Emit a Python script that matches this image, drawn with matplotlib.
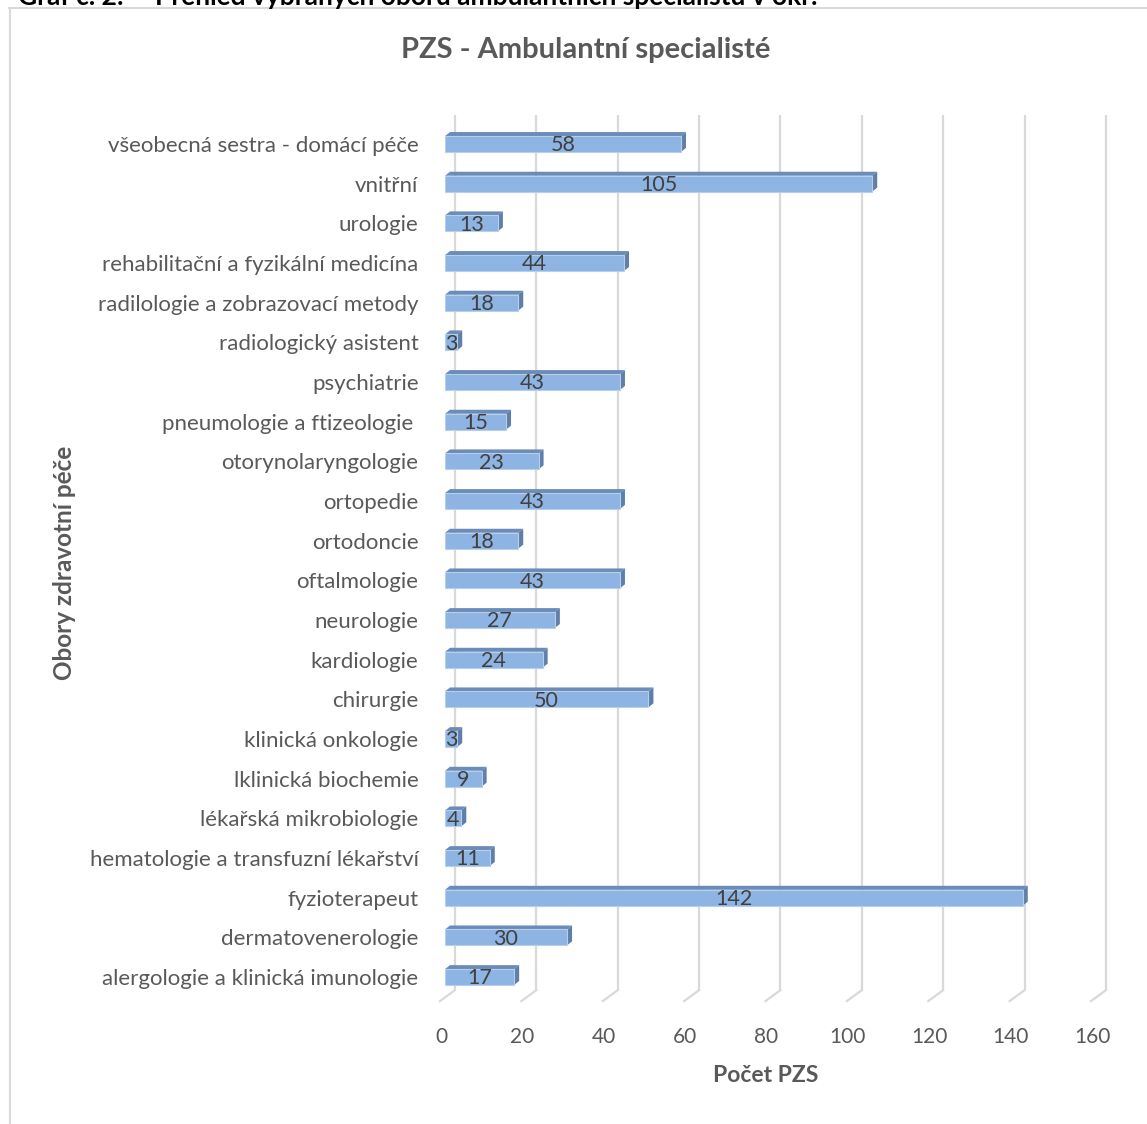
import matplotlib
matplotlib.use("Agg")
import matplotlib.pyplot as plt
from matplotlib.patches import Rectangle, Polygon
from matplotlib.lines import Line2D
import matplotlib.transforms as mtransforms

plt.rcParams['font.family'] = ['Lato', 'DejaVu Sans']

# data (bottom -> top)
obory = [
    "alergologie a klinická imunologie",
    "dermatovenerologie",
    "fyzioterapeut",
    "hematologie a transfuzní lékařství",
    "lékařská mikrobiologie",
    "lklinická biochemie",
    "klinická onkologie",
    "chirurgie",
    "kardiologie",
    "neurologie",
    "oftalmologie",
    "ortodoncie",
    "ortopedie",
    "otorynolaryngologie",
    "pneumologie a ftizeologie ",
    "psychiatrie",
    "radiologický asistent",
    "radilologie a zobrazovací metody",
    "rehabilitační a fyzikální medicína",
    "urologie",
    "vnitřní",
    "všeobecná sestra - domácí péče",
]
pocty = [17, 30, 142, 11, 4, 9, 3, 50, 24, 27, 43, 18, 43, 23, 15, 43, 3, 18, 44, 13, 105, 58]
x_ticks = [0, 20, 40, 60, 80, 100, 120, 140, 160]

nadpis = "PZS - Ambulantní specialisté"
osa_x = "Počet PZS"
osa_y = "Obory zdravotní péče"
popis_1 = "Graf č. 2:"
popis_2 = "Přehled vybraných oborů ambulantních specialistů v okr."

W, H = 1147, 1124
fig = plt.figure(figsize=(W / 100, H / 100), dpi=100)

# axes placed in pixels: x=0 at 445px, 160 at 1096px; rows 39.67px apart
left_px, width_px = 445, 651
row_px = 39.67
top_center, n = 144, len(obory)
bottom_px = top_center + (n - 1) * row_px + 0.53 * row_px
top_px = top_center - 0.53 * row_px
ax = fig.add_axes([left_px / W, 1 - bottom_px / H, width_px / W, (bottom_px - top_px) / H])
ax.set_xlim(0, 160)
ax.set_ylim(-0.53, n - 1 + 0.53)
for s in ax.spines.values():
    s.set_visible(False)

ux = width_px / 160.0   # px per unit in x
uy = row_px              # px per unit in y

def off(px, py):
    return px / ux, py / uy

# back wall grid + floor lines
gx, gy = off(10, 8)
fx, fy = off(-5, -3)
y0 = -0.53
for t in x_ticks:
    ax.plot([t + gx, t + gx], [y0 + gy, n - 1 + 0.53 + gy], color='#D9D9D9', lw=1.6,
            clip_on=False, zorder=1, solid_capstyle='butt')
    ax.plot([t + gx, t + fx], [y0 + gy, y0 + fy], color='#D9D9D9', lw=1.6,
            clip_on=False, zorder=1)

# 3d bars
h = 0.40
dx, dy = off(5, 4)
front_c = '#8DB4E2'
top_c = '#6B8CB8'
side_c = '#5F7FA8'
for i, v in enumerate(pocty):
    yb, yt = i - h / 2, i + h / 2
    ax.add_patch(Polygon([(0, yt), (v, yt), (v + dx, yt + dy), (dx, yt + dy)],
                         closed=True, fc=top_c, ec='none', zorder=3, clip_on=False))
    ax.add_patch(Polygon([(v, yb), (v + dx, yb + dy), (v + dx, yt + dy), (v, yt)],
                         closed=True, fc=side_c, ec='none', zorder=3, clip_on=False))
    ax.add_patch(Rectangle((0, yb), v, h, fc=front_c, ec='#B8CFEB', lw=0.8,
                           zorder=4, clip_on=False))
    ax.text(v / 2, i - 0.03, str(v), ha='center', va='center', fontsize=15.5,
            color='#404040', zorder=5)

ax.set_yticks(range(n))
ax.set_yticklabels(obory, fontsize=16, color='#595959')
ax.tick_params(axis='y', length=0, pad=19)
ax.set_xticks(x_ticks)
ax.set_xticklabels([str(t) for t in x_ticks], fontsize=15, color='#595959')
ax.tick_params(axis='x', length=0, pad=21)
shift = mtransforms.ScaledTranslation(-4 / 100, 0, fig.dpi_scale_trans)
for lbl in ax.get_xticklabels():
    lbl.set_transform(lbl.get_transform() + shift)

fig.text(586 / W, 1 - 50 / H, nadpis, ha='center', va='center', fontsize=21,
         fontweight='bold', color='#595959')
fig.text(766 / W, 1 - 1075 / H, osa_x, ha='center', va='center', fontsize=16.5,
         fontweight='bold', color='#595959')
fig.text(65 / W, 1 - 563 / H, osa_y, ha='center', va='center', rotation=90,
         fontsize=17.5, fontweight='bold', color='#595959')

# chart frame, partly outside the page
fig.add_artist(Line2D([9.5 / W, 9.5 / W], [1 - 8 / H, 0], color='#D9D9D9', lw=1.5))
fig.add_artist(Line2D([9 / W, 1], [1 - 8 / H, 1 - 8 / H], color='#D9D9D9', lw=1.5))

# caption cut at the top edge
fig.text(18 / W, 1 - 5 / H, popis_1, ha='left', va='baseline', fontsize=19,
         fontweight='bold', color='black')
fig.text(155 / W, 1 - 5 / H, popis_2, ha='left', va='baseline', fontsize=19,
         fontweight='bold', color='black')

fig.savefig("out.png", dpi=100)
